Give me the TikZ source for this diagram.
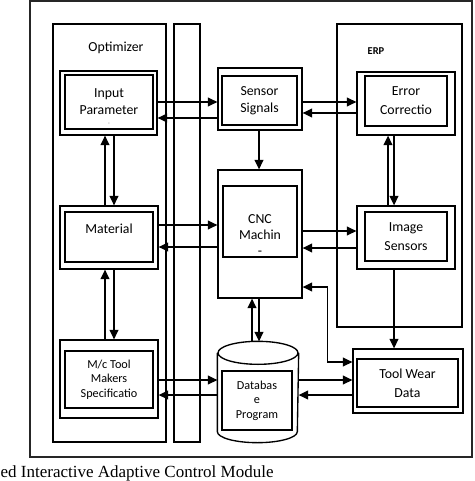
\documentclass[tikz,border=0pt]{standalone}
\usepackage{fontspec}
\setmainfont{Carlito}
\newfontfamily\capfont{Liberation Serif}
\usetikzlibrary{arrows.meta}

\begin{document}
\begin{tikzpicture}[->,>={Triangle[length=9.5pt,width=9pt]},x=1pt,y=-1pt,line width=1.35pt]
  \tikzstyle{every node}=[font=\fontsize{13.8}{17}\selectfont,align=center,inner sep=0pt]
  \tikzstyle{outbox}=[draw]
  \tikzstyle{inbox}=[draw]
  \tikzstyle{small}=[font=\fontsize{12.2}{14.5}\selectfont]
  \tikzstyle{wide}=[font=\fontsize{13.8}{19}\selectfont]
  \useasboundingbox (0,0) rectangle (474,481);

  % containers
  \node[draw,line width=1.8pt,draw=black!85,minimum width=442,minimum height=456] (frame) at (251,229) {};
  \node[draw,minimum width=113,minimum height=418] (opt) at (109.5,233) {};
  \node[draw,minimum width=26,minimum height=418]  (bus) at (187,233) {};
  \node[draw,minimum width=125,minimum height=303] (erp) at (399.5,175.5) {};
  \node (optlbl) at (116,48) {Optimizer};
  \node[font=\fontsize{10.5}{12}\selectfont\bfseries] (erplbl) at (376,51) {ERP};

  % left column
  \node[outbox,minimum width=97,minimum height=64] (inp) at (108.5,103) {};
  \node[inbox,minimum width=88,minimum height=54] (inpin) at (109,102) {Input\\Parameter};
  \node[font=\fontsize{7}{7}\selectfont,text=black!40] (inpdash) at (109,124) {-};
  \node[outbox,minimum width=98,minimum height=63] (mat) at (109,237.5) {};
  \node[inbox,minimum width=88,minimum height=50] (matin) at (109,237) {};
  \node (mattxt) at (109,229) {Material};
  \node[outbox,minimum width=98,minimum height=78] (mc) at (109,379) {};
  \node[inbox,small,minimum width=88,minimum height=57] (mcin) at (109,379.5) {M/c Tool\\Makers\\Specificatio};

  % middle column
  \node[outbox,minimum width=84,minimum height=62] (sen) at (260,99) {};
  \node[inbox,minimum width=75,minimum height=49] (senin) at (259.5,100.5) {Sensor\\Signals};
  \node[outbox,minimum width=84,minimum height=128] (cnc) at (260,234) {};
  \node[inbox,minimum width=74,minimum height=71] (cncin) at (260,221.5) {};
  \node[font=\fontsize{13.8}{16}\selectfont] (cnctxt) at (260,235) {CNC\\Machin\\-};
  \node[minimum width=80,minimum height=100] (db) at (258,392) {};
  \draw[-] ([yshift=-11.5pt]db.north) ellipse [x radius=40pt, y radius=11.5pt];
  \draw[-] ([yshift=-11.5pt]db.north west) -- ([yshift=11pt]db.south west)
    arc [start angle=180, end angle=360, x radius=40pt, y radius=11pt] -- ([yshift=-11.5pt]db.north east);
  \node[inbox,small,minimum width=70,minimum height=59] (dbin) at (257,400.5) {Databas\\e\\Program};

  % right column
  \node[outbox,minimum width=98,minimum height=63] (err) at (406,103.5) {};
  \node[inbox,wide,minimum width=82,minimum height=50] (errin) at (406,101) {Error\\Correctio};
  \node[outbox,minimum width=98,minimum height=63] (img) at (406,237.5) {};
  \node[inbox,wide,minimum width=82,minimum height=49] (imgin) at (406,236.5) {Image\\Sensors};
  \node[outbox,minimum width=110,minimum height=64] (tw) at (408,381) {};
  \node[inbox,wide,minimum width=101,minimum height=48] (twin) at (407.5,383) {Tool Wear\\Data};

  % arrows
  \path ([yshift=1pt]inp.east) edge ([yshift=1pt]inp.east -| sen.west)
        ([yshift=-19pt]sen.west) edge ([yshift=-19pt]sen.west -| inp.east)
        ([xshift=-4pt]mat.north) edge ([xshift=-4pt]mat.north |- inp.south)
        ([xshift=5.5pt]inp.south) edge ([xshift=5.5pt]inp.south |- mat.north)
        ([yshift=12.5pt]mat.east) edge ([yshift=12.5pt]mat.east -| cnc.west)
        ([yshift=-13pt]cnc.west) edge ([yshift=-13pt]cnc.west -| mat.east)
        ([xshift=-4pt]mc.north) edge ([xshift=-4pt]mc.north |- mat.south)
        ([xshift=5pt]mat.south) edge ([xshift=5pt]mat.south |- mc.north)
        ([yshift=-1pt]mc.east) edge ([yshift=-1pt]mc.east -| db.west)
        ([yshift=-3pt]db.west) edge ([yshift=-3pt]db.west -| mc.east);
  \path ([xshift=-1pt]sen.south) edge ([xshift=-1pt]sen.south |- cnc.north)
        ([yshift=-3pt]sen.east) edge ([yshift=-3pt]sen.east -| err.west)
        ([yshift=-9.5pt]err.west) edge ([yshift=-9.5pt]err.west -| sen.east)
        ([xshift=-18pt]img.north) edge ([xshift=-18pt]img.north |- err.south)
        ([xshift=-12pt]err.south) edge ([xshift=-12pt]err.south |- img.north)
        ([yshift=3pt]cnc.east) edge ([yshift=3pt]cnc.east -| img.west)
        ([yshift=-10.5pt]img.west) edge ([yshift=-10.5pt]img.west -| cnc.east)
        ([xshift=-6pt]db.north) edge ([xshift=-6pt]db.north |- cnc.south)
        ([xshift=-1pt]cnc.south) edge ([xshift=-1pt]cnc.south |- db.north)
        ([yshift=12pt]db.east) edge ([yshift=12pt]db.east -| tw.west)
        ([yshift=-14pt]tw.west) edge ([yshift=-14pt]tw.west -| db.east)
        ([xshift=-12pt]img.south) edge ([xshift=-12pt]img.south |- tw.north);
  \draw[<->] ([yshift=-53pt]cnc.east) -- ++(25,0) |- ([yshift=19pt]tw.west);

  \node[anchor=base west,font=\capfont\fontsize{17}{20}\selectfont] (cap) at (0,477) {ed Interactive Adaptive Control Module};
\end{tikzpicture}
\end{document}
